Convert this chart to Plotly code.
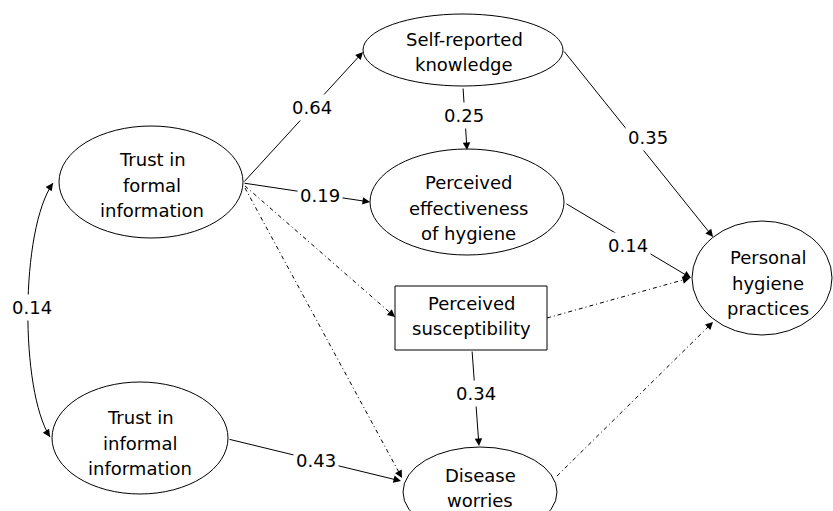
import math
import plotly.graph_objects as go

# ---------------- data ----------------
node_ids = ["formal", "informal", "selfrep", "effect", "suscept", "worries", "personal"]
node_labels = [
    "Trust in\nformal\ninformation",
    "Trust in\ninformal\ninformation",
    "Self-reported\nknowledge",
    "Perceived\neffectiveness\nof hygiene",
    "Perceived\nsusceptibility",
    "Disease\nworries",
    "Personal\nhygiene\npractices",
]
node_kind = ["latent", "latent", "latent", "latent", "observed", "latent", "latent"]

edge_from = ["formal", "formal", "selfrep", "selfrep", "effect", "formal", "formal", "informal", "suscept", "suscept", "worries"]
edge_to = ["selfrep", "effect", "effect", "personal", "personal", "suscept", "worries", "worries", "worries", "personal", "personal"]
edge_coef = [0.64, 0.19, 0.25, 0.35, 0.14, None, None, 0.43, 0.34, None, None]

corr_pair = ["formal", "informal"]
corr_coef = [0.14]

# ---------------- layout geometry (pixels) ----------------
node_geom = {  # cx, cy, rx, ry
    "formal": (151, 182, 92, 56),
    "informal": (140, 438, 88, 56),
    "selfrep": (463, 50, 100, 36),
    "effect": (467, 202, 97, 53),
    "suscept": (471, 318, 76, 32),
    "worries": (480, 492, 77, 45),
    "personal": (762, 278, 70, 57),
}
text_center = {
    "formal": (152, 185), "informal": (140, 443), "selfrep": (464, 52),
    "effect": (468, 208), "suscept": (471, 316), "worries": (480, 488),
    "personal": (768, 283),
}
edge_geom = [  # tail, head, label position
    ((243, 183), (363, 52), (312, 107)),
    ((243, 183), (370, 202), (320, 195)),
    ((463, 87), (467, 150), (464, 115)),
    ((563, 50), (713, 237), (648, 137)),
    ((565, 203), (691, 278), (628, 245)),
    ((245, 186), (395, 317), None),
    ((245, 188), (402, 478), None),
    ((228, 439), (401, 481), (316, 460)),
    ((472, 350), (479, 446), (476, 393)),
    ((547, 318), (690, 278), None),
    ((557, 476), (713, 322), None),
]
curve_pts = [(53, 183), (20, 230), (20, 390), (50, 437)]
corr_label_pos = (32, 307)

FONT = dict(family="DejaVu Sans", size=18, color="black")
LINE_H = 25.5

fig = go.Figure()
shapes = []
annotations = []

def head_ann(tip, direction, length=8):
    dx, dy = direction
    n = math.hypot(dx, dy)
    tx = tip[0] - dx / n * length
    ty = tip[1] - dy / n * length
    return dict(x=tip[0], y=tip[1], ax=tx, ay=ty, xref="x", yref="y", axref="x", ayref="y",
                text="", showarrow=True, arrowhead=2, arrowsize=1.5, arrowwidth=1,
                arrowcolor="black", standoff=0, startstandoff=0)

# edges
label_anns = []
for (tail, head, lab), coef in zip(edge_geom, edge_coef):
    if coef is None:
        shapes.append(dict(type="line", xref="x", yref="y", x0=tail[0], y0=tail[1],
                           x1=head[0], y1=head[1],
                           line=dict(color="black", width=1, dash="4px,3px,1px,3px")))
        annotations.append(head_ann(head, (head[0] - tail[0], head[1] - tail[1])))
    else:
        annotations.append(dict(x=head[0], y=head[1], ax=tail[0], ay=tail[1], xref="x", yref="y",
                                axref="x", ayref="y", text="", showarrow=True, arrowhead=2,
                                arrowsize=1.5, arrowwidth=1, arrowcolor="black",
                                standoff=0, startstandoff=0))
        label_anns.append(dict(x=lab[0], y=lab[1], xref="x", yref="y", text=f"{coef:.2f}",
                               showarrow=False, font=FONT, bgcolor="white", borderpad=2))

# correlation curve
p0, c1, c2, p3 = curve_pts
shapes.append(dict(type="path", xref="x", yref="y",
                   path=f"M {p0[0]},{p0[1]} C {c1[0]},{c1[1]} {c2[0]},{c2[1]} {p3[0]},{p3[1]}",
                   line=dict(color="black", width=1)))
annotations.append(head_ann(p0, (p0[0] - c1[0], p0[1] - c1[1])))
annotations.append(head_ann(p3, (p3[0] - c2[0], p3[1] - c2[1])))
label_anns.append(dict(x=corr_label_pos[0], y=corr_label_pos[1], xref="x", yref="y",
                       text=f"{corr_coef[0]:.2f}", showarrow=False, font=FONT,
                       bgcolor="white", borderpad=2))

# nodes
for nid, lab, kind in zip(node_ids, node_labels, node_kind):
    cx, cy, rx, ry = node_geom[nid]
    shapes.append(dict(type="circle" if kind == "latent" else "rect", xref="x", yref="y",
                       x0=cx - rx, x1=cx + rx, y0=cy - ry, y1=cy + ry,
                       line=dict(color="black", width=1), fillcolor="rgba(0,0,0,0)"))
    lines = lab.split("\n")
    tx, ty = text_center[nid]
    for i, ln in enumerate(lines):
        yy = ty + (i - (len(lines) - 1) / 2) * LINE_H
        annotations.append(dict(x=tx, y=yy, xref="x", yref="y", text=ln, showarrow=False,
                                font=FONT))

fig.update_layout(
    width=833, height=511,
    margin=dict(l=0, r=0, t=0, b=0),
    paper_bgcolor="white", plot_bgcolor="white",
    xaxis=dict(range=[0, 833], visible=False, fixedrange=True),
    yaxis=dict(range=[511, 0], visible=False, fixedrange=True),
    shapes=shapes,
    annotations=annotations + label_anns,
    showlegend=False,
)
fig.write_html("out.html", config={"displayModeBar": False},
               post_script="document.body.style.margin='0';document.body.style.overflow='hidden';")
